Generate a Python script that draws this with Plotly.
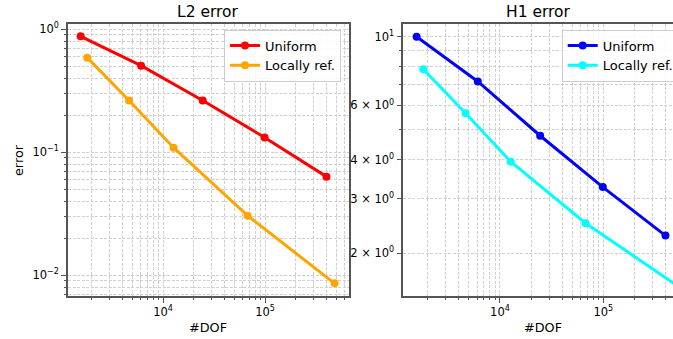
import numpy as np
import plotly.graph_objects as go

# ---- data ----
dof_uniform = [1560, 6100, 24500, 99000, 400000]
dof_local = [1810, 4650, 12700, 67500, 480000]
l2_uniform = [0.877, 0.506, 0.264, 0.132, 0.0634]
l2_local = [0.588, 0.264, 0.109, 0.0305, 0.0086]
h1_uniform = [10.0, 7.17, 4.79, 3.27, 2.28]
h1_local = [7.85, 5.66, 3.95, 2.50, 1.60]

x_major = [1e4, 1e5]
x_major_text = ["10<sup>4</sup>", "10<sup>5</sup>"]
l2_major = [1e-2, 1e-1, 1e0]
l2_major_text = ["10<sup>−2</sup>", "10<sup>−1</sup>", "10<sup>0</sup>"]
h1_major = [2, 3, 4, 6, 10]
h1_major_text = ["2 × 10<sup>0</sup>", "3 × 10<sup>0</sup>", "4 × 10<sup>0</sup>",
                 "6 × 10<sup>0</sup>", "10<sup>1</sup>"]

W, H = 673, 339
FONT = "DejaVu Sans"
SPINE = "#555555"
GRID = "#d0d0d0"
DASH = "3px,1.5px"

x_minor = [m * 10 ** e for e in (3, 4, 5) for m in range(2, 10)]
l2_minor = [m * 10.0 ** e for e in (-3, -2, -1) for m in range(2, 10)]
h1_minor = [5, 7, 8, 9]

fig = go.Figure()

def add(x, y, color, name, xa, ya, leg):
    fig.add_trace(go.Scatter(
        x=x, y=y, mode="lines+markers", name=name,
        line=dict(color=color, width=3),
        marker=dict(color=color, size=8),
        xaxis=xa, yaxis=ya, legend=leg, cliponaxis=False))

add(dof_uniform, l2_uniform, "#ff0000", "Uniform", "x", "y", "legend")
add(dof_local, l2_local, "#ffa500", "Locally ref.", "x", "y", "legend")
add(dof_uniform, h1_uniform, "#0000ff", "Uniform", "x2", "y2", "legend2")
add(dof_local, h1_local, "#00ffff", "Locally ref.", "x2", "y2", "legend2")

def minor(vals):
    return dict(tickvals=vals, ticks="outside", ticklen=2.5, tickwidth=1,
                tickcolor=SPINE, showgrid=True, gridcolor=GRID,
                gridwidth=0.7, griddash=DASH)

def axis_common(**kw):
    d = dict(
        type="log", showline=True, linecolor=SPINE, linewidth=1.6,
        ticks="outside", ticklen=5, tickwidth=1.2, tickcolor=SPINE,
        showgrid=True, gridcolor=GRID, gridwidth=0.7, griddash=DASH,
        zeroline=False,
        tickfont=dict(family=FONT, size=11.5, color="black"),
    )
    d.update(kw)
    return d

y0, y1 = 1 - 295.7 / H, 1 - 24 / H

fig.update_layout(
    width=W, height=H,
    margin=dict(l=0, r=0, t=0, b=0, autoexpand=False),
    plot_bgcolor="white", paper_bgcolor="white",
    font=dict(family=FONT, size=13, color="black"),
    xaxis=axis_common(
        domain=[68 / W, 348.7 / W], range=[3.069, 5.82], anchor="y",
        mirror=True, tickvals=x_major, ticktext=x_major_text,
        minor=minor(x_minor)),
    yaxis=axis_common(
        domain=[y0, y1], range=[-2.166, 0.043], anchor="x",
        mirror=True, tickvals=l2_major, ticktext=l2_major_text,
        minor=minor(l2_minor)),
    xaxis2=axis_common(
        domain=[403.3 / W, 1.0], range=[3.064, 5.675], anchor="y2",
        mirror=True, tickvals=x_major, ticktext=x_major_text,
        minor=minor(x_minor)),
    yaxis2=axis_common(
        domain=[y0, y1], range=[0.164, 1.041], anchor="x2",
        mirror=False, tickvals=h1_major, ticktext=h1_major_text,
        minor=minor(h1_minor)),
    legend=dict(x=341 / W, xanchor="right", y=1 - 29.5 / H, yanchor="top",
                bgcolor="rgba(255,255,255,0.85)", bordercolor="#cccccc",
                borderwidth=1, font=dict(family=FONT, size=13)),
    legend2=dict(x=561.7 / W, xanchor="left", y=1 - 29.5 / H, yanchor="top",
                 bgcolor="rgba(255,255,255,0.85)", bordercolor="#cccccc",
                 borderwidth=1, font=dict(family=FONT, size=13)),
    showlegend=True,
)

ann = [
    dict(text="L2 error", x=208 / W, y=1 - 12 / H, font=dict(size=15.5)),
    dict(text="H1 error", x=538 / W, y=1 - 12 / H, font=dict(size=15.5)),
    dict(text="#DOF", x=208 / W, y=1 - 327 / H, font=dict(size=12.8)),
    dict(text="#DOF", x=543 / W, y=1 - 327 / H, font=dict(size=12.8)),
    dict(text="error", x=18 / W, y=1 - 160 / H, textangle=-90, font=dict(size=12.8)),
]
for a in ann:
    a.update(xref="paper", yref="paper", showarrow=False,
             xanchor="center", yanchor="middle")
    a["font"].update(family=FONT, color="black")
fig.update_layout(annotations=ann)

fig.write_html("out.html")
